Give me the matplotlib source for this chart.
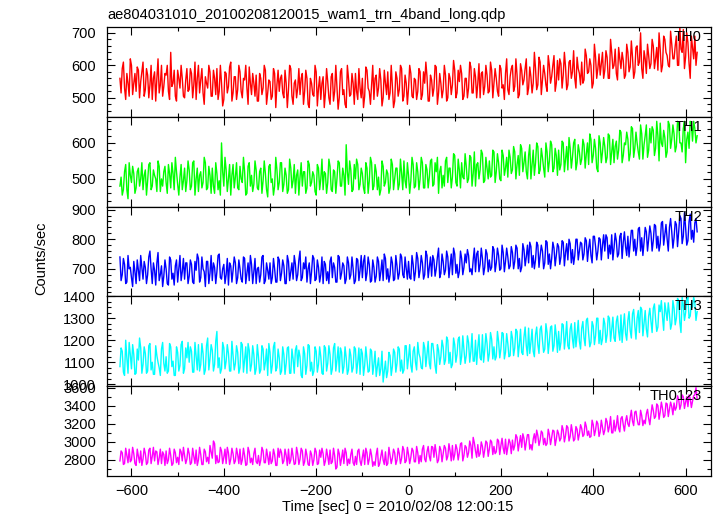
import numpy as np
import matplotlib
matplotlib.use('Agg')
import matplotlib.pyplot as plt
from matplotlib.ticker import MultipleLocator

plt.rcParams['font.family'] = ['Liberation Sans', 'DejaVu Sans']
plt.rcParams['font.size'] = 10.5

TITLE = 'ae804031010_20100208120015_wam1_trn_4band_long.qdp'
XLABEL = 'Time [sec] 0 = 2010/02/08 12:00:15'
YLABEL = 'Counts/sec'

# time bins (sec): *_a lists sit on -625, -620, ... ; *_b lists sit 2.5 s later
t_start = -625
t_step = 5

labels = ['TH0', 'TH1', 'TH2', 'TH3', 'TH0123']
colors = ['#ff0000', '#00ff00', '#0000ff', '#00ffff', '#ff00ff']

th0_a = [
    560, 590, 530, 575, 505, 600, 545, 520, 585, 550,
    610, 525, 570, 540, 495, 580, 560, 515, 600, 535,
    570, 520, 640, 545, 505, 585, 530, 560, 500, 590,
    525, 575, 540, 495, 600, 555, 515, 565, 530, 580,
    505, 560, 590, 520, 545, 495, 575, 535, 610, 515,
    565, 525, 580, 500, 555, 530, 595, 510, 545, 570,
    490, 560, 530, 585, 515, 550, 505, 575, 540, 520,
    570, 500, 545, 525, 590, 480, 555, 530, 510, 575,
    520, 560, 470, 545, 505, 580, 530, 495, 565, 515,
    550, 480, 575, 520, 535, 500, 590, 525, 470, 560,
    510, 545, 575, 495, 530, 560, 505, 585, 520, 540,
    495, 570, 530, 555, 500, 545, 580, 515, 535, 490,
    560, 525, 590, 505, 545, 530, 575, 500, 555, 520,
    580, 510, 545, 565, 490, 555, 530, 595, 515, 545,
    525, 570, 500, 560, 540, 585, 515, 550, 575, 505,
    560, 530, 595, 515, 565, 545, 500, 580, 535, 570,
    520, 585, 545, 560, 505, 590, 540, 575, 525, 565,
    600, 535, 570, 510, 585, 555, 620, 530, 565, 545,
    590, 540, 610, 555, 575, 520, 600, 565, 630, 545,
    555, 605, 570, 595, 540, 615, 580, 560, 625, 575,
    610, 555, 630, 580, 600, 545, 625, 590, 570, 640,
    585, 625, 560, 640, 600, 575, 655, 590, 615, 570,
    640, 595, 625, 580, 660, 610, 590, 645, 575, 630,
    605, 660, 620, 585, 650, 600, 680, 630, 595, 665,
    620, 690, 600, 650, 710, 625, 670, 560, 655, 690,
    640,
]
th0_b = [
    515, 610, 495, 545, 620, 510, 575, 595, 500, 580,
    505, 590, 500, 600, 560, 490, 620, 540, 505, 575,
    600, 495, 535, 585, 490, 560, 600, 505, 555, 520,
    590, 500, 610, 560, 515, 590, 480, 545, 600, 505,
    585, 510, 495, 600, 475, 580, 515, 595, 490, 565,
    495, 600, 520, 560, 600, 480, 545, 575, 505, 490,
    575, 510, 600, 480, 555, 495, 590, 470, 585, 560,
    515, 585, 470, 600, 505, 545, 500, 590, 560, 480,
    585, 480, 560, 510, 600, 475, 565, 545, 470, 590,
    500, 565, 490, 600, 465, 580, 510, 480, 600, 505,
    575, 480, 520, 590, 500, 470, 595, 530, 480, 600,
    560, 505, 590, 475, 585, 510, 495, 600, 470, 580,
    505, 600, 490, 570, 480, 600, 505, 560, 495, 590,
    495, 580, 610, 490, 570, 505, 600, 480, 575, 500,
    600, 490, 575, 510, 615, 500, 585, 600, 495, 560,
    500, 610, 515, 590, 500, 605, 575, 510, 600, 515,
    610, 500, 590, 520, 600, 530, 495, 620, 510, 590,
    520, 620, 500, 605, 540, 590, 510, 595, 515, 640,
    525, 625, 510, 600, 540, 630, 545, 600, 520, 615,
    620, 530, 640, 525, 610, 560, 645, 530, 590, 540,
    545, 650, 575, 620, 530, 665, 560, 635, 605, 560,
    645, 560, 680, 590, 650, 555, 620, 640, 560, 665,
    580, 675, 560, 655, 600, 700, 560, 620, 665, 590,
    680, 590, 655, 700, 580, 690, 640, 600, 705, 620,
    660, 600, 715, 640, 590, 700, 605, 690, 620, 600,
]

th1_a = [
    480, 455, 520, 470, 545, 490, 515, 475, 530, 500,
    470, 525, 495, 545, 480, 510, 465, 535, 500, 520,
    490, 540, 475, 515, 560, 485, 505, 470, 530, 495,
    525, 480, 550, 500, 465, 520, 490, 545, 475, 510,
    530, 460, 515, 495, 600, 480, 525, 500, 455, 540,
    505, 475, 535, 490, 520, 460, 545, 510, 485, 525,
    470, 530, 495, 515, 450, 540, 500, 480, 525, 490,
    545, 485, 510, 470, 530, 495, 460, 525, 505, 480,
    520, 475, 540, 490, 510, 455, 530, 500, 470, 515,
    490, 535, 465, 520, 500, 545, 480, 510, 595, 485,
    525, 470, 500, 540, 485, 515, 460, 530, 495, 545,
    480, 520, 505, 470, 535, 490, 515, 475, 540, 500,
    530, 485, 515, 550, 475, 510, 495, 540, 480, 520,
    500, 545, 475, 525, 505, 555, 485, 520, 460, 535,
    510, 550, 490, 530, 505, 565, 480, 525, 545, 500,
    535, 500, 560, 515, 480, 545, 525, 570, 495, 530,
    550, 510, 575, 520, 545, 495, 565, 530, 505, 560,
    525, 575, 540, 510, 585, 545, 520, 565, 500, 580,
    545, 590, 525, 560, 505, 575, 550, 595, 530, 565,
    580, 540, 600, 555, 525, 585, 560, 610, 545, 575,
    555, 595, 570, 540, 610, 565, 585, 520, 600, 575,
    590, 560, 620, 575, 545, 605, 580, 630, 565, 595,
    610, 570, 640, 585, 600, 555, 625, 595, 650, 580,
    600, 635, 585, 620, 655, 590, 615, 575, 650, 610,
    625, 590, 655, 600, 640, 545, 630, 660, 605, 640,
    620,
]
th1_b = [
    505, 470, 540, 445, 510, 535, 460, 520, 480, 545,
    510, 455, 540, 470, 525, 500, 550, 465, 480, 535,
    460, 515, 545, 470, 520, 455, 540, 495, 465, 550,
    470, 545, 455, 530, 510, 475, 560, 470, 535, 460,
    480, 545, 470, 455, 520, 560, 465, 540, 510, 475,
    545, 470, 500, 560, 455, 535, 480, 465, 550, 475,
    520, 460, 550, 470, 535, 490, 455, 560, 470, 545,
    465, 530, 460, 555, 475, 540, 510, 455, 545, 520,
    460, 550, 480, 520, 465, 540, 470, 555, 520, 460,
    555, 470, 525, 460, 550, 480, 530, 455, 520, 550,
    465, 540, 555, 470, 530, 475, 545, 460, 560, 470,
    540, 470, 455, 550, 480, 525, 460, 555, 470, 530,
    470, 555, 470, 495, 545, 460, 560, 475, 545, 470,
    560, 475, 540, 475, 550, 480, 545, 560, 520, 475,
    480, 560, 530, 475, 570, 490, 555, 475, 505, 570,
    490, 565, 480, 575, 540, 500, 580, 490, 560, 500,
    505, 580, 490, 570, 500, 580, 510, 560, 580, 515,
    590, 500, 565, 595, 520, 575, 500, 595, 540, 510,
    600, 515, 585, 530, 600, 520, 605, 520, 585, 510,
    525, 605, 520, 590, 615, 530, 600, 525, 595, 540,
    610, 530, 600, 625, 545, 610, 530, 620, 545, 615,
    545, 625, 540, 610, 590, 555, 635, 545, 600, 630,
    550, 645, 560, 630, 575, 650, 555, 620, 560, 640,
    645, 565, 660, 550, 600, 635, 560, 660, 585, 650,
    575, 660, 600, 575, 660, 610, 585, 650, 660, 600,
]

th2_a = [
    740, 680, 715, 655, 700, 670, 725, 650, 695, 745,
    665, 705, 680, 760, 650, 695, 720, 660, 710, 675,
    700, 645, 730, 685, 710, 655, 745, 690, 665, 720,
    675, 715, 650, 695, 735, 670, 700, 640, 725, 685,
    660, 705, 690, 750, 665, 715, 680, 645, 710, 695,
    720, 670, 700, 655, 735, 685, 660, 715, 690, 650,
    705, 680, 745, 660, 695, 720, 670, 700, 655, 730,
    685, 710, 650, 725, 690, 665, 715, 680, 760, 670,
    700, 655, 720, 690, 735, 665, 705, 680, 650, 715,
    690, 725, 670, 705, 655, 740, 685, 710, 665, 720,
    680, 700, 660, 730, 695, 670, 745, 685, 715, 660,
    705, 675, 725, 690, 660, 735, 700, 680, 720, 665,
    710, 685, 740, 670, 700, 725, 665, 715, 690, 735,
    695, 720, 680, 745, 705, 675, 730, 700, 770, 685,
    725, 695, 740, 710, 680, 750, 715, 690, 735, 705,
    720, 745, 700, 730, 690, 760, 715, 735, 705, 750,
    730, 705, 765, 720, 745, 700, 755, 725, 740, 710,
    755, 725, 770, 735, 705, 765, 740, 720, 775, 745,
    730, 780, 745, 760, 720, 790, 750, 735, 770, 745,
    775, 740, 790, 755, 730, 785, 765, 745, 800, 760,
    785, 750, 795, 770, 745, 810, 775, 760, 800, 780,
    760, 805, 780, 815, 770, 795, 750, 820, 790, 775,
    810, 785, 830, 800, 775, 840, 805, 790, 825, 800,
    820, 795, 845, 810, 785, 860, 815, 800, 840, 825,
    805, 850, 825, 870, 810, 840, 795, 885, 830, 855,
    825,
]
th2_b = [
    660, 735, 650, 745, 705, 640, 690, 730, 660, 705,
    725, 650, 740, 700, 720, 645, 755, 680, 640, 730,
    650, 740, 665, 645, 730, 700, 660, 735, 720, 650,
    730, 655, 725, 750, 655, 740, 690, 725, 650, 745,
    720, 650, 745, 670, 700, 650, 735, 720, 655, 740,
    650, 730, 665, 740, 650, 720, 745, 650, 735, 700,
    655, 740, 650, 720, 665, 650, 735, 655, 740, 660,
    730, 650, 745, 660, 720, 745, 660, 730, 660, 720,
    740, 700, 650, 745, 660, 730, 655, 740, 725, 660,
    650, 740, 720, 655, 745, 665, 720, 650, 740, 665,
    740, 650, 735, 660, 745, 725, 660, 740, 655, 730,
    655, 740, 660, 730, 750, 665, 655, 740, 660, 745,
    665, 750, 680, 740, 665, 670, 745, 660, 755, 670,
    745, 665, 760, 670, 740, 745, 675, 740, 670, 750,
    680, 760, 670, 750, 770, 685, 670, 760, 680, 750,
    765, 690, 680, 770, 750, 690, 770, 680, 765, 690,
    695, 775, 690, 770, 695, 780, 690, 770, 700, 775,
    700, 780, 700, 690, 785, 710, 780, 790, 705, 700,
    790, 705, 780, 700, 795, 715, 700, 790, 710, 785,
    715, 795, 710, 785, 800, 720, 715, 800, 730, 790,
    730, 805, 725, 800, 720, 810, 730, 805, 730, 815,
    815, 735, 750, 730, 820, 740, 810, 735, 825, 745,
    740, 830, 760, 745, 835, 760, 745, 840, 760, 845,
    760, 850, 770, 760, 855, 780, 850, 760, 870, 770,
    860, 775, 880, 785, 890, 780, 860, 800, 790, 870,
]

th3_a = [
    1080, 1150, 1040, 1120, 1190, 1070, 1135, 1050, 1110, 1165,
    1090, 1140, 1060, 1185, 1100, 1045, 1130, 1075, 1160, 1095,
    1125, 1060, 1170, 1105, 1040, 1145, 1085, 1195, 1070, 1120,
    1100, 1150, 1055, 1130, 1180, 1090, 1140, 1065, 1210, 1115,
    1155, 1090, 1240, 1120, 1070, 1165, 1105, 1140, 1060, 1130,
    1095, 1145, 1075, 1180, 1110, 1050, 1155, 1090, 1135, 1070,
    1125, 1065, 1160, 1100, 1040, 1145, 1085, 1190, 1075, 1120,
    1060, 1135, 1095, 1170, 1050, 1115, 1155, 1080, 1125, 1030,
    1140, 1085, 1175, 1100, 1060, 1150, 1090, 1125, 1045, 1165,
    1095, 1135, 1070, 1185, 1110, 1055, 1145, 1080, 1120, 1065,
    1130, 1075, 1160, 1100, 1045, 1140, 1085, 1115, 1060, 1150,
    1090, 1035, 1120, 1070, 1010, 1105, 1060, 1130, 1080, 1145,
    1095, 1160, 1110, 1065, 1175, 1120, 1085, 1150, 1100, 1190,
    1120, 1070, 1165, 1135, 1095, 1185, 1140, 1050, 1155, 1125,
    1170, 1110, 1200, 1145, 1090, 1180, 1135, 1215, 1125, 1160,
    1130, 1190, 1150, 1105, 1200, 1165, 1120, 1225, 1155, 1185,
    1140, 1205, 1170, 1125, 1195, 1160, 1230, 1145, 1185, 1130,
    1210, 1165, 1240, 1180, 1145, 1215, 1175, 1255, 1190, 1150,
    1225, 1180, 1250, 1200, 1160, 1235, 1195, 1265, 1175, 1220,
    1240, 1190, 1270, 1215, 1175, 1250, 1205, 1280, 1225, 1195,
    1255, 1210, 1290, 1230, 1190, 1265, 1220, 1300, 1245, 1205,
    1275, 1225, 1300, 1250, 1210, 1285, 1240, 1315, 1260, 1230,
    1290, 1245, 1320, 1265, 1300, 1235, 1340, 1275, 1250, 1310,
    1285, 1345, 1295, 1260, 1330, 1305, 1370, 1290, 1320, 1275,
    1345, 1300, 1380, 1235, 1360, 1325, 1395, 1310, 1350, 1370,
    1330,
]
th3_b = [
    1165, 1055, 1200, 1050, 1135, 1180, 1045, 1160, 1210, 1050,
    1170, 1050, 1175, 1065, 1045, 1175, 1100, 1040, 1190, 1060,
    1050, 1185, 1080, 1040, 1170, 1060, 1180, 1050, 1165, 1190,
    1170, 1055, 1190, 1065, 1060, 1185, 1045, 1175, 1065, 1180,
    1060, 1195, 1075, 1050, 1190, 1070, 1180, 1060, 1195, 1065,
    1175, 1050, 1190, 1055, 1170, 1185, 1060, 1175, 1045, 1180,
    1050, 1175, 1065, 1160, 1185, 1050, 1170, 1060, 1160, 1045,
    1170, 1045, 1165, 1050, 1160, 1050, 1175, 1155, 1040, 1170,
    1045, 1180, 1060, 1040, 1170, 1055, 1170, 1050, 1175, 1060,
    1175, 1045, 1165, 1060, 1170, 1165, 1050, 1170, 1045, 1160,
    1055, 1170, 1050, 1165, 1160, 1040, 1170, 1055, 1160, 1045,
    1150, 1080, 1040, 1150, 1060, 1030, 1145, 1040, 1160, 1055,
    1170, 1060, 1050, 1175, 1070, 1180, 1055, 1170, 1065, 1140,
    1075, 1190, 1080, 1195, 1070, 1185, 1085, 1180, 1090, 1200,
    1090, 1215, 1095, 1075, 1210, 1100, 1205, 1090, 1220, 1095,
    1220, 1100, 1230, 1105, 1090, 1225, 1110, 1100, 1230, 1105,
    1235, 1115, 1110, 1240, 1120, 1235, 1115, 1230, 1125, 1240,
    1130, 1250, 1125, 1250, 1135, 1260, 1130, 1140, 1250, 1125,
    1260, 1140, 1265, 1145, 1275, 1140, 1260, 1150, 1270, 1145,
    1155, 1275, 1160, 1285, 1160, 1275, 1165, 1170, 1290, 1160,
    1285, 1175, 1300, 1170, 1285, 1180, 1300, 1185, 1180, 1300,
    1190, 1310, 1195, 1305, 1195, 1310, 1200, 1190, 1320, 1200,
    1330, 1210, 1340, 1205, 1335, 1350, 1220, 1335, 1215, 1345,
    1235, 1365, 1240, 1360, 1380, 1245, 1330, 1370, 1250, 1380,
    1270, 1390, 1280, 1395, 1290, 1385, 1300, 1370, 1395, 1290,
]

th0123_a = [
    2790, 2880, 2760, 2850, 2920, 2800, 2870, 2740, 2840, 2900,
    2810, 2870, 2770, 2930, 2840, 2790, 2890, 2820, 2760, 2860,
    2900, 2800, 2850, 2760, 2880, 2830, 2920, 2790, 2850, 2810,
    2870, 2770, 2840, 2910, 2800, 2860, 2750, 2890, 2830, 2960,
    2820, 2980, 2850, 2780, 2900, 2830, 2760, 2880, 2810, 2870,
    2790, 2860, 2920, 2800, 2850, 2750, 2890, 2820, 2870, 2780,
    2850, 2800, 2900, 2770, 2840, 2890, 2790, 2860, 2740, 2830,
    2880, 2790, 2850, 2920, 2800, 2840, 2760, 2870, 2810, 2900,
    2780, 2850, 2740, 2860, 2800, 2890, 2760, 2830, 2870, 2790,
    2840, 2910, 2780, 2850, 2720, 2870, 2820, 2760, 2880, 2810,
    2860, 2770, 2840, 2900, 2790, 2830, 2750, 2880, 2810, 2850,
    2780, 2860, 2730, 2840, 2800, 2890, 2760, 2850, 2820, 2880,
    2800, 2870, 2820, 2910, 2790, 2860, 2830, 2900, 2780, 2880,
    2850, 2920, 2810, 2890, 2840, 2950, 2830, 2880, 2800, 2910,
    2870, 2930, 2840, 2900, 2960, 2860, 2920, 2880, 2990, 2850,
    2940, 2880, 2960, 3050, 2900, 2970, 2870, 2950, 2910, 2990,
    2920, 3000, 2950, 2890, 3010, 2960, 2930, 3030, 2940, 2990,
    3020, 2960, 3050, 2990, 2940, 3040, 3000, 3080, 2970, 3030,
    2990, 3070, 3020, 3100, 3040, 2980, 3080, 3050, 3120, 3030,
    3090, 3040, 3130, 3070, 3160, 3060, 3110, 3030, 3140, 3090,
    3150, 3080, 3170, 3120, 3060, 3190, 3130, 3200, 3110, 3160,
    3130, 3220, 3170, 3100, 3240, 3180, 3150, 3260, 3190, 3230,
    3200, 3270, 3230, 3330, 3250, 3190, 3290, 3240, 3310, 3260,
    3300, 3350, 3280, 3400, 3330, 3370, 3290, 3420, 3360, 3390,
    3430, 3380, 3470, 3410, 3500, 3440, 3390, 3480, 3450, 3520,
    3470,
]
th0123_b = [
    2900, 2750, 2930, 2770, 2780, 2940, 2760, 2920, 2770, 2740,
    2930, 2750, 2910, 2760, 2940, 2900, 2750, 2920, 2890, 2740,
    2760, 2930, 2740, 2920, 2770, 2750, 2890, 2940, 2760, 2930,
    2750, 2930, 2760, 2740, 2940, 2750, 2920, 2780, 2760, 2890,
    3010, 2760, 2770, 2940, 2760, 2920, 2940, 2750, 2930, 2760,
    2930, 2760, 2750, 2930, 2740, 2940, 2770, 2750, 2930, 2760,
    2740, 2940, 2770, 2920, 2750, 2760, 2920, 2740, 2930, 2920,
    2760, 2920, 2740, 2760, 2930, 2750, 2940, 2750, 2930, 2740,
    2920, 2750, 2900, 2740, 2930, 2750, 2910, 2930, 2740, 2920,
    2750, 2760, 2930, 2700, 2920, 2740, 2910, 2930, 2740, 2760,
    2920, 2740, 2750, 2920, 2740, 2910, 2930, 2750, 2920, 2730,
    2740, 2930, 2760, 2910, 2750, 2740, 2940, 2760, 2920, 2750,
    2930, 2760, 2950, 2770, 2940, 2760, 2930, 2780, 2950, 2760,
    2780, 2960, 2780, 2950, 2790, 2940, 2970, 2770, 2950, 2780,
    2960, 2800, 2980, 2790, 2800, 2970, 2800, 2980, 2790, 2960,
    2830, 3010, 2820, 2990, 2830, 2840, 3000, 2830, 3010, 2840,
    3020, 2860, 2870, 3030, 2860, 3040, 2870, 2860, 3030, 2870,
    2910, 3080, 2900, 3070, 3090, 2910, 3080, 2920, 2910, 3090,
    3130, 2960, 3120, 2970, 2960, 3140, 2970, 3130, 2960, 3130,
    3010, 3180, 3000, 3180, 3010, 3190, 3010, 3170, 3020, 3190,
    3060, 3220, 3070, 3050, 3240, 3070, 3230, 3060, 3240, 3080,
    3260, 3110, 3280, 3100, 3120, 3290, 3110, 3280, 3120, 3290,
    3170, 3350, 3180, 3340, 3190, 3350, 3180, 3200, 3360, 3190,
    3410, 3260, 3420, 3250, 3440, 3270, 3430, 3280, 3440, 3300,
    3350, 3510, 3360, 3520, 3370, 3500, 3520, 3380, 3510, 3600,
]

series = [(th0_a, th0_b), (th1_a, th1_b), (th2_a, th2_b),
          (th3_a, th3_b), (th0123_a, th0123_b)]

# per-panel y ranges and tick steps
ylims = [(441, 718), (422, 672), (608, 909), (992, 1401), (2623, 3618)]
ymajor = [100, 100, 100, 100, 200]
yminor = [20, 20, 20, 25, 100]

W, H = 717, 516
left_px, right_px = 107, 711
edges_px = [27, 117, 207, 296, 386, 476]

fig = plt.figure(figsize=(W / 100, H / 100), dpi=100)

axes = []
for i in range(5):
    top, bot = edges_px[i], edges_px[i + 1]
    ax = fig.add_axes([left_px / W, 1 - bot / H, (right_px - left_px) / W, (bot - top) / H])
    a, b = series[i]
    y = np.empty(len(a) + len(b))
    y[0::2] = a
    y[1::2] = b
    t = t_start + t_step / 2 * np.arange(len(y))
    ax.plot(t, y, color=colors[i], lw=1.0)
    ax.set_xlim(-653, 655)
    ax.set_ylim(*ylims[i])
    ax.xaxis.set_major_locator(MultipleLocator(200))
    ax.xaxis.set_minor_locator(MultipleLocator(100))
    ax.yaxis.set_major_locator(MultipleLocator(ymajor[i]))
    ax.yaxis.set_minor_locator(MultipleLocator(yminor[i]))
    ax.tick_params(which='both', direction='in', top=True, right=True, width=0.8)
    ax.tick_params(which='major', length=6)
    ax.tick_params(which='minor', length=3)
    ax.tick_params(axis='y', pad=8)
    ax.tick_params(axis='x', pad=6)
    for s in ax.spines.values():
        s.set_linewidth(0.9)
    if i < 4:
        ax.tick_params(axis='x', labelbottom=False)
    ax.text(0.985, 0.965, labels[i], transform=ax.transAxes, ha='right', va='top')
    axes.append(ax)

axes[-1].set_xticklabels([f'{v:.0f}'.replace('-', '\u2212') for v in axes[-1].get_xticks()])
fig.text(left_px / W, 1 - 15 / H, TITLE, ha='left', va='center')
fig.text(398 / W, 1 - 507 / H, XLABEL, ha='center', va='center')
fig.text(41 / W, 1 - 258 / H, YLABEL, ha='center', va='center', rotation=90)

fig.savefig('out.png', dpi=100)
